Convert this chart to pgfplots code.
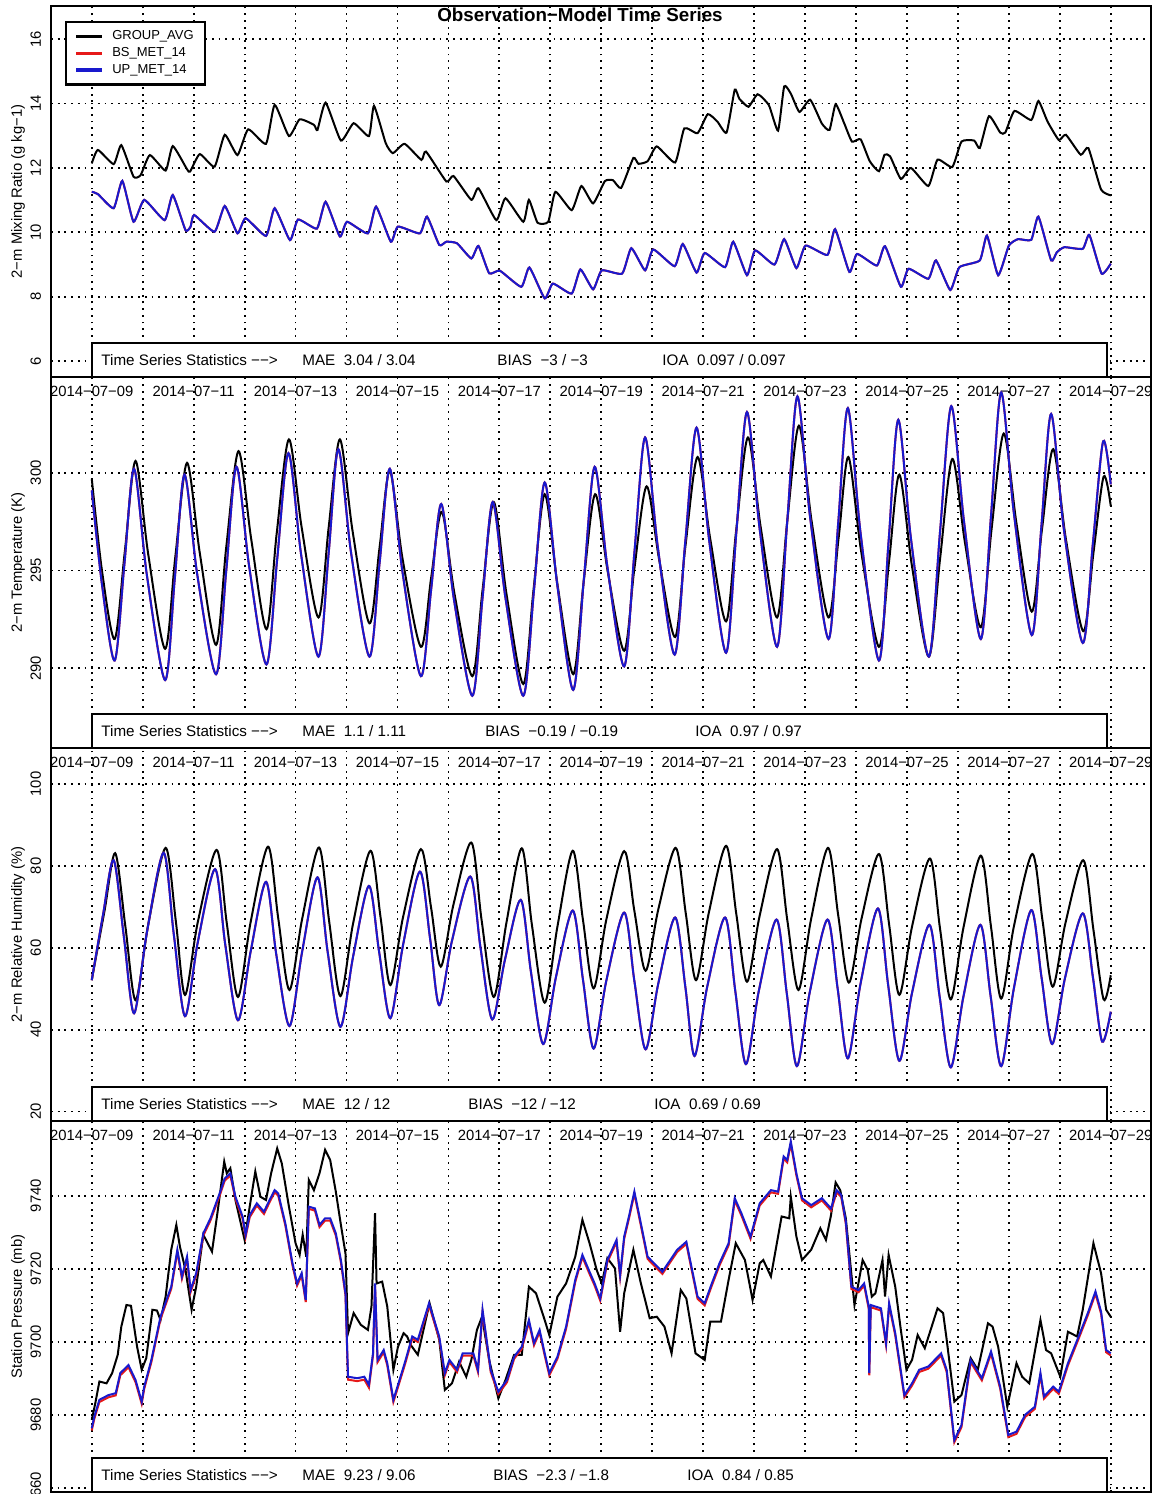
\documentclass[border=0pt]{standalone}
\usepackage{pgfplots}
\pgfplotsset{compat=1.18}
\usepackage{fontspec}
\setmainfont{Liberation Sans}
\definecolor{rblue}{RGB}{25,25,205}
\definecolor{rred}{RGB}{230,25,25}
\newcommand\tickfont{\fontsize{7.4}{8.5}\selectfont}
\newcommand\statfont{\fontsize{7.6}{9}\selectfont}
\tikzset{stat/.style={anchor=west, font=\statfont, inner sep=0pt}}
\pgfplotsset{
  panel/.style={
    scale only axis, width=550pt,
    xmin=-0.80, xmax=20.79,
    xtick={0,2,...,20}, minor xtick={1,3,...,19},
    xticklabels={2014−07−09,2014−07−11,2014−07−13,2014−07−15,2014−07−17,2014−07−19,2014−07−21,2014−07−23,2014−07−25,2014−07−27,2014−07−29},
    grid=both,
    major grid style={black, line width=0.9pt, dash pattern=on 0.9pt off 2.45pt},
    minor grid style={black, line width=0.9pt, dash pattern=on 0.9pt off 2.45pt},
    major tick length=0pt, minor tick length=0pt,
    axis line style={line width=1.25pt},
    ticklabel style={font=\tickfont},
    xticklabel shift=0.9pt,
    yticklabel style={rotate=90, anchor=south},
    yticklabel shift=1.5pt,
    label style={font=\tickfont},
    ylabel style={at={(axis description cs:-0.030,0.5)}, anchor=center},
  },
}
\newcommand\statbox{\draw[line width=1pt, fill=white] (rel axis cs:0.0373,0) rectangle (rel axis cs:0.9600,0.0916);
  \node[stat] at (rel axis cs:0.0455,0.046) {Time Series Statistics −−>};}
\begin{document}
\begin{tikzpicture}
% ---------------- Panel 1: mixing ratio
\begin{axis}[panel, at={(25.5pt,558.5pt)}, anchor=south west, height=185.5pt,
  ymin=5.51, ymax=17.03, ytick={6,8,10,12,14,16}, yticklabels={6,8,10,12,14,16},
  ylabel={2−m Mixing Ratio (g kg−1)},
  legend style={at={(axis description cs:0.0127,0.96)}, anchor=north west, draw=black, line width=1.1pt, fill=white,
    font=\fontsize{6.5}{7}\selectfont, inner xsep=4.3pt, inner ysep=3pt, nodes={inner sep=1.2pt}, column sep=3pt, row sep=0pt, cells={anchor=west}},
  legend image code/.code={\draw[#1, line width=1.6pt] (0pt,0pt) -- (13pt,0pt);}]
\addplot[black, line width=1pt, smooth, tension=0.3] coordinates {(0,12.14) (0.12,12.56) (0.43,12.12) (0.58,12.71) (0.82,11.73) (0.96,11.78) (1.14,12.40) (1.45,11.92) (1.59,12.68) (1.87,11.96) (1.93,11.89) (2.12,12.43) (2.41,12.04) (2.61,13.03) (2.86,12.40) (3.07,13.20) (3.42,12.75) (3.59,13.96) (3.87,12.99) (4.08,13.51) (4.36,13.34) (4.43,13.18) (4.59,14.03) (4.89,12.85) (5.14,13.39) (5.44,12.99) (5.54,13.93) (5.77,12.77) (5.91,12.46) (6.14,12.75) (6.47,12.25) (6.56,12.51) (6.96,11.58) (7.10,11.75) (7.45,11.01) (7.59,11.37) (7.94,10.38) (8.12,11.06) (8.47,10.33) (8.58,11.01) (8.75,10.30) (8.96,10.33) (9.10,11.26) (9.42,10.69) (9.61,11.44) (9.84,10.90) (10.07,11.59) (10.23,11.62) (10.39,11.38) (10.63,12.31) (10.73,12.13) (10.91,12.21) (11.09,12.67) (11.45,12.17) (11.63,13.23) (11.89,13.08) (12.09,13.67) (12.28,13.44) (12.46,13.10) (12.62,14.43) (12.71,14.15) (12.89,13.90) (13.07,14.29) (13.29,13.95) (13.47,13.16) (13.59,14.53) (13.72,14.31) (13.89,13.74) (14.10,14.12) (14.33,13.38) (14.48,13.18) (14.60,13.98) (14.77,13.38) (14.92,12.82) (15.09,12.89) (15.27,12.21) (15.45,11.90) (15.56,12.41) (15.67,12.36) (15.88,11.66) (16.08,12.0) (16.42,11.44) (16.60,12.26) (16.89,12.03) (17.07,12.82) (17.32,12.85) (17.43,12.62) (17.61,13.61) (17.83,13.10) (17.93,13.10) (18.11,13.77) (18.44,13.49) (18.58,14.08) (18.76,13.44) (18.98,12.87) (19.12,13.03) (19.41,12.41) (19.56,12.62) (19.81,11.33) (20.0,11.15)};
\addplot[rred, line width=1pt, smooth, tension=0.3] coordinates {(0,11.26) (0.12,11.19) (0.43,10.75) (0.6,11.60) (0.82,10.33) (1.03,11.01) (1.43,10.38) (1.59,11.16) (1.84,10.07) (1.94,10.18) (2.01,10.54) (2.41,10.02) (2.61,10.82) (2.86,9.97) (3.02,10.44) (3.42,9.89) (3.59,10.75) (3.89,9.76) (4.05,10.40) (4.42,10.12) (4.59,10.95) (4.87,9.87) (5.01,10.33) (5.42,9.97) (5.58,10.80) (5.87,9.71) (6.01,10.18) (6.44,9.97) (6.58,10.49) (6.82,9.61) (6.96,9.71) (7.17,9.66) (7.45,9.19) (7.59,9.58) (7.80,8.73) (8.01,8.81) (8.43,8.31) (8.59,8.91) (8.89,7.95) (9.05,8.41) (9.42,8.10) (9.59,8.85) (9.84,8.23) (10.01,8.82) (10.41,8.72) (10.59,9.51) (10.86,8.82) (11.02,9.47) (11.44,8.95) (11.60,9.64) (11.87,8.75) (12.03,9.36) (12.43,8.92) (12.59,9.71) (12.86,8.67) (13.02,9.44) (13.40,9.0) (13.59,9.79) (13.83,8.89) (14.01,9.59) (14.44,9.30) (14.59,10.10) (14.87,8.77) (15.02,9.33) (15.41,8.97) (15.57,9.57) (15.88,8.31) (16.03,8.87) (16.42,8.56) (16.57,9.13) (16.85,8.21) (17.03,8.92) (17.43,9.13) (17.57,9.90) (17.79,8.67) (18.0,9.59) (18.18,9.79) (18.44,9.77) (18.58,10.49) (18.83,9.13) (18.94,9.38) (19.09,9.54) (19.45,9.49) (19.58,9.92) (19.82,8.72) (20.0,9.03)};
\addplot[rblue, line width=1pt, smooth, tension=0.3] coordinates {(0,11.26) (0.12,11.19) (0.43,10.75) (0.6,11.60) (0.82,10.33) (1.03,11.01) (1.43,10.38) (1.59,11.16) (1.84,10.07) (1.94,10.18) (2.01,10.54) (2.41,10.02) (2.61,10.82) (2.86,9.97) (3.02,10.44) (3.42,9.89) (3.59,10.75) (3.89,9.76) (4.05,10.40) (4.42,10.12) (4.59,10.95) (4.87,9.87) (5.01,10.33) (5.42,9.97) (5.58,10.80) (5.87,9.71) (6.01,10.18) (6.44,9.97) (6.58,10.49) (6.82,9.61) (6.96,9.71) (7.17,9.66) (7.45,9.19) (7.59,9.58) (7.80,8.73) (8.01,8.81) (8.43,8.31) (8.59,8.91) (8.89,7.95) (9.05,8.41) (9.42,8.10) (9.59,8.85) (9.84,8.23) (10.01,8.82) (10.41,8.72) (10.59,9.51) (10.86,8.82) (11.02,9.47) (11.44,8.95) (11.60,9.64) (11.87,8.75) (12.03,9.36) (12.43,8.92) (12.59,9.71) (12.86,8.67) (13.02,9.44) (13.40,9.0) (13.59,9.79) (13.83,8.89) (14.01,9.59) (14.44,9.30) (14.59,10.10) (14.87,8.77) (15.02,9.33) (15.41,8.97) (15.57,9.57) (15.88,8.31) (16.03,8.87) (16.42,8.56) (16.57,9.13) (16.85,8.21) (17.03,8.92) (17.43,9.13) (17.57,9.90) (17.79,8.67) (18.0,9.59) (18.18,9.79) (18.44,9.77) (18.58,10.49) (18.83,9.13) (18.94,9.38) (19.09,9.54) (19.45,9.49) (19.58,9.92) (19.82,8.72) (20.0,9.03)};
\legend{GROUP\_AVG, BS\_MET\_14, UP\_MET\_14}
\statbox
\node[stat] at (rel axis cs:0.2282,0.046) {MAE\ \ 3.04 / 3.04};
\node[stat] at (rel axis cs:0.4055,0.046) {BIAS\ \ −3 / −3};
\node[stat] at (rel axis cs:0.5555,0.046) {IOA\ \ 0.097 / 0.097};
\end{axis}
% ---------------- Panel 2: temperature
\begin{axis}[panel, at={(25.5pt,373pt)}, anchor=south west, height=185.5pt,
  ymin=285.93, ymax=304.89, ytick={290,295,300}, yticklabels={290,295,300},
  ylabel={2−m Temperature (K)}]
\addplot[black, line width=1pt, smooth] coordinates {(0,299.7) (0.2,295.0) (0.45,291.5) (0.65,296.0) (0.86,300.6) (1.11,295.8) (1.44,291.0) (1.64,295.7) (1.87,300.5) (2.12,295.9) (2.44,291.2) (2.64,296.2) (2.88,301.1) (3.13,296.6) (3.43,292.0) (3.63,296.9) (3.87,301.7) (4.12,297.2) (4.45,292.6) (4.65,297.2) (4.87,301.7) (5.12,297.0) (5.45,292.3) (5.65,296.2) (5.85,300.1) (6.1,295.6) (6.46,291.1) (6.66,294.6) (6.87,298.0) (7.12,293.8) (7.47,289.6) (7.67,294.0) (7.89,298.5) (8.14,293.8) (8.47,289.2) (8.67,294.0) (8.89,298.9) (9.14,294.3) (9.45,289.7) (9.65,294.3) (9.88,298.9) (10.13,294.9) (10.45,290.9) (10.65,295.1) (10.89,299.3) (11.14,295.5) (11.45,291.6) (11.65,296.2) (11.89,300.8) (12.14,296.6) (12.45,292.4) (12.65,297.1) (12.88,301.8) (13.13,297.2) (13.45,292.6) (13.65,297.5) (13.88,302.4) (14.13,297.5) (14.46,292.6) (14.66,296.7) (14.85,300.8) (15.1,296.0) (15.45,291.1) (15.65,295.5) (15.85,299.9) (16.1,295.2) (16.43,290.6) (16.65,295.6) (16.89,300.7) (17.14,296.4) (17.45,292.1) (17.66,297.1) (17.9,302.0) (18.15,297.4) (18.45,292.9) (18.65,297.1) (18.87,301.2) (19.12,296.6) (19.46,291.9) (19.66,295.9) (19.86,299.8) (20,298.3)};
\addplot[rred, line width=1pt, smooth] coordinates {(0,299.1) (0.2,294.3) (0.45,290.4) (0.64,295.3) (0.83,300.2) (1.08,294.8) (1.44,289.4) (1.63,294.6) (1.82,299.9) (2.07,294.8) (2.44,289.7) (2.64,295.0) (2.84,300.3) (3.09,295.2) (3.43,290.2) (3.64,295.6) (3.86,301.0) (4.11,295.8) (4.45,290.6) (4.65,295.9) (4.84,301.2) (5.09,295.9) (5.45,290.6) (5.65,295.4) (5.85,300.2) (6.1,294.9) (6.46,289.6) (6.66,294.0) (6.86,298.4) (7.11,293.5) (7.47,288.6) (7.67,293.6) (7.87,298.5) (8.12,293.6) (8.47,288.6) (8.68,294.0) (8.89,299.5) (9.14,294.2) (9.45,288.9) (9.66,294.6) (9.87,300.3) (10.12,295.2) (10.45,290.1) (10.65,295.9) (10.86,301.8) (11.11,296.2) (11.44,290.7) (11.65,296.5) (11.87,302.3) (12.12,296.5) (12.45,290.8) (12.65,296.9) (12.86,303.1) (13.11,297.1) (13.45,291.1) (13.65,297.5) (13.85,303.9) (14.1,297.7) (14.46,291.5) (14.65,297.4) (14.84,303.3) (15.09,296.9) (15.45,290.4) (15.64,296.5) (15.83,302.7) (16.08,296.6) (16.43,290.6) (16.65,297.0) (16.87,303.4) (17.12,297.5) (17.45,291.5) (17.65,297.8) (17.85,304.1) (18.1,297.9) (18.45,291.7) (18.64,297.3) (18.83,303.0) (19.08,297.1) (19.45,291.3) (19.65,296.4) (19.85,301.6) (20,299.4)};
\addplot[rblue, line width=1pt, smooth] coordinates {(0,299.1) (0.2,294.3) (0.45,290.4) (0.64,295.3) (0.83,300.2) (1.08,294.8) (1.44,289.4) (1.63,294.6) (1.82,299.9) (2.07,294.8) (2.44,289.7) (2.64,295.0) (2.84,300.3) (3.09,295.2) (3.43,290.2) (3.64,295.6) (3.86,301.0) (4.11,295.8) (4.45,290.6) (4.65,295.9) (4.84,301.2) (5.09,295.9) (5.45,290.6) (5.65,295.4) (5.85,300.2) (6.1,294.9) (6.46,289.6) (6.66,294.0) (6.86,298.4) (7.11,293.5) (7.47,288.6) (7.67,293.6) (7.87,298.5) (8.12,293.6) (8.47,288.6) (8.68,294.0) (8.89,299.5) (9.14,294.2) (9.45,288.9) (9.66,294.6) (9.87,300.3) (10.12,295.2) (10.45,290.1) (10.65,295.9) (10.86,301.8) (11.11,296.2) (11.44,290.7) (11.65,296.5) (11.87,302.3) (12.12,296.5) (12.45,290.8) (12.65,296.9) (12.86,303.1) (13.11,297.1) (13.45,291.1) (13.65,297.5) (13.85,303.9) (14.1,297.7) (14.46,291.5) (14.65,297.4) (14.84,303.3) (15.09,296.9) (15.45,290.4) (15.64,296.5) (15.83,302.7) (16.08,296.6) (16.43,290.6) (16.65,297.0) (16.87,303.4) (17.12,297.5) (17.45,291.5) (17.65,297.8) (17.85,304.1) (18.1,297.9) (18.45,291.7) (18.64,297.3) (18.83,303.0) (19.08,297.1) (19.45,291.3) (19.65,296.4) (19.85,301.6) (20,299.4)};
\statbox
\node[stat] at (rel axis cs:0.2282,0.046) {MAE\ \ 1.1 / 1.11};
\node[stat] at (rel axis cs:0.3945,0.046) {BIAS\ \ −0.19 / −0.19};
\node[stat] at (rel axis cs:0.5855,0.046) {IOA\ \ 0.97 / 0.97};
\end{axis}
% ---------------- Panel 3: relative humidity
\begin{axis}[panel, at={(25.5pt,186.5pt)}, anchor=south west, height=186.5pt,
  ymin=17.7, ymax=108.8, ytick={20,40,60,80,100}, yticklabels={20,40,60,80,100},
  ylabel={2−m Relative Humidity (\%)}]
\addplot[black, line width=1pt, smooth] coordinates {(0,52.1) (0.25,69.0) (0.46,83.1) (0.66,65.2) (0.86,47.2) (1.11,65.8) (1.45,84.4) (1.65,66.5) (1.83,48.5) (2.08,66.2) (2.45,83.9) (2.65,66.0) (2.87,48.0) (3.12,66.4) (3.46,84.7) (3.66,67.2) (3.88,49.7) (4.13,67.1) (4.46,84.5) (4.66,66.4) (4.88,48.2) (5.13,66.0) (5.47,83.7) (5.67,67.3) (5.86,50.9) (6.11,67.5) (6.46,84.1) (6.66,69.8) (6.85,55.4) (7.1,70.6) (7.45,85.7) (7.65,66.9) (7.89,48.0) (8.14,66.2) (8.44,84.3) (8.64,65.5) (8.89,46.6) (9.14,65.2) (9.44,83.7) (9.64,66.9) (9.85,50.1) (10.1,66.9) (10.45,83.6) (10.65,69.0) (10.87,54.4) (11.12,69.4) (11.46,84.4) (11.66,68.3) (11.86,52.1) (12.11,68.5) (12.45,84.9) (12.65,68.3) (12.86,51.7) (13.11,67.9) (13.45,84.1) (13.65,66.9) (13.87,49.7) (14.12,67.1) (14.45,84.4) (14.65,68.0) (14.86,51.5) (15.11,67.2) (15.45,82.9) (15.65,65.7) (15.85,48.5) (16.1,65.2) (16.45,81.8) (16.65,64.6) (16.86,47.4) (17.11,65.0) (17.45,82.5) (17.65,65.1) (17.85,47.6) (18.1,65.3) (18.46,82.9) (18.66,66.7) (18.86,50.5) (19.11,66.0) (19.46,81.4) (19.66,64.4) (19.86,47.4) (20,53.3)};
\addplot[rred, line width=1pt, smooth] coordinates {(0,52.1) (0.22,68.0) (0.43,81.4) (0.63,62.7) (0.83,44.0) (1.08,63.6) (1.41,83.2) (1.61,63.3) (1.83,43.3) (2.08,61.3) (2.42,79.2) (2.62,60.8) (2.87,42.3) (3.12,59.2) (3.42,76.1) (3.62,58.5) (3.88,40.9) (4.13,59.1) (4.43,77.2) (4.63,59.0) (4.88,40.7) (5.13,57.9) (5.44,75.1) (5.64,59.0) (5.86,42.8) (6.11,60.7) (6.44,78.6) (6.64,62.3) (6.82,46.0) (7.07,61.7) (7.43,77.4) (7.63,60.0) (7.86,42.5) (8.11,57.1) (8.42,71.7) (8.62,54.1) (8.86,36.5) (9.11,52.8) (9.44,69.1) (9.64,52.3) (9.85,35.4) (10.1,52.0) (10.45,68.6) (10.65,51.9) (10.87,35.2) (11.12,51.3) (11.45,67.4) (11.65,50.5) (11.83,33.6) (12.08,50.5) (12.43,67.4) (12.63,49.5) (12.84,31.6) (13.09,49.3) (13.44,66.9) (13.64,49.0) (13.84,31.1) (14.09,49.0) (14.44,66.9) (14.64,50.0) (14.84,33.0) (15.09,51.3) (15.43,69.6) (15.63,51.0) (15.85,32.4) (16.1,49.0) (16.44,65.6) (16.64,48.2) (16.86,30.8) (17.11,48.2) (17.44,65.6) (17.64,48.4) (17.85,31.1) (18.1,50.2) (18.44,69.2) (18.64,52.9) (18.85,36.5) (19.1,52.5) (19.45,68.4) (19.65,52.8) (19.83,37.1) (20,44.4)};
\addplot[rblue, line width=1pt, smooth] coordinates {(0,52.1) (0.22,68.0) (0.43,81.4) (0.63,62.7) (0.83,44.0) (1.08,63.6) (1.41,83.2) (1.61,63.3) (1.83,43.3) (2.08,61.3) (2.42,79.2) (2.62,60.8) (2.87,42.3) (3.12,59.2) (3.42,76.1) (3.62,58.5) (3.88,40.9) (4.13,59.1) (4.43,77.2) (4.63,59.0) (4.88,40.7) (5.13,57.9) (5.44,75.1) (5.64,59.0) (5.86,42.8) (6.11,60.7) (6.44,78.6) (6.64,62.3) (6.82,46.0) (7.07,61.7) (7.43,77.4) (7.63,60.0) (7.86,42.5) (8.11,57.1) (8.42,71.7) (8.62,54.1) (8.86,36.5) (9.11,52.8) (9.44,69.1) (9.64,52.3) (9.85,35.4) (10.1,52.0) (10.45,68.6) (10.65,51.9) (10.87,35.2) (11.12,51.3) (11.45,67.4) (11.65,50.5) (11.83,33.6) (12.08,50.5) (12.43,67.4) (12.63,49.5) (12.84,31.6) (13.09,49.3) (13.44,66.9) (13.64,49.0) (13.84,31.1) (14.09,49.0) (14.44,66.9) (14.64,50.0) (14.84,33.0) (15.09,51.3) (15.43,69.6) (15.63,51.0) (15.85,32.4) (16.1,49.0) (16.44,65.6) (16.64,48.2) (16.86,30.8) (17.11,48.2) (17.44,65.6) (17.64,48.4) (17.85,31.1) (18.1,50.2) (18.44,69.2) (18.64,52.9) (18.85,36.5) (19.1,52.5) (19.45,68.4) (19.65,52.8) (19.83,37.1) (20,44.4)};
\statbox
\node[stat] at (rel axis cs:0.2282,0.046) {MAE\ \ 12 / 12};
\node[stat] at (rel axis cs:0.3791,0.046) {BIAS\ \ −12 / −12};
\node[stat] at (rel axis cs:0.5482,0.046) {IOA\ \ 0.69 / 0.69};
\end{axis}
% ---------------- Panel 4: station pressure
\begin{axis}[panel, at={(25.5pt,1pt)}, anchor=south west, height=185.5pt,
  xticklabels={},
  ymin=9659.0, ymax=9760.4, ytick={9660,9680,9700,9720,9740}, yticklabels={9660,9680,9700,9720,9740},
  ylabel={Station Pressure (mb)}]
\addplot[black, line width=1pt] coordinates {(0,9678.7) (0.07,9683.3) (0.15,9689.2) (0.29,9688.7) (0.4,9691.5) (0.51,9696.5) (0.58,9704.2) (0.68,9710.1) (0.77,9709.9) (0.89,9698.7) (0.98,9692.4) (1.07,9695.6) (1.19,9708.8) (1.28,9708.6) (1.35,9706.0) (1.45,9712.4) (1.56,9725.2) (1.66,9732.0) (1.73,9726.1) (1.84,9719.7) (1.96,9708.8) (2.05,9715.1) (2.19,9729.3) (2.36,9724.7) (2.47,9735.6) (2.6,9749.3) (2.65,9746.1) (2.72,9747.5) (2.82,9738.8) (3.0,9727.9) (3.1,9737.0) (3.21,9746.6) (3.31,9739.7) (3.42,9738.8) (3.52,9746.1) (3.64,9752.9) (3.73,9748.8) (3.87,9737.0) (4.0,9727.0) (4.08,9723.8) (4.14,9729.3) (4.21,9723.3) (4.26,9744.3) (4.36,9741.5) (4.47,9746.1) (4.58,9752.5) (4.68,9749.7) (4.79,9741.1) (4.89,9732.0) (4.98,9724.2) (5.03,9702.4) (5.14,9707.9) (5.28,9704.7) (5.42,9703.3) (5.49,9709.7) (5.56,9735.2) (5.59,9716.0) (5.70,9716.5) (5.80,9709.7) (5.92,9692.4) (6.01,9698.7) (6.12,9702.4) (6.19,9701.5) (6.26,9699.2) (6.40,9696.5) (6.63,9710.6) (6.82,9700.6) (6.93,9686.9) (7.07,9688.7) (7.21,9694.6) (7.35,9690.5) (7.45,9695.1) (7.56,9703.3) (7.66,9706.9) (7.80,9695.1) (7.98,9684.6) (8.12,9689.6) (8.29,9696.5) (8.44,9696.5) (8.58,9715.1) (8.72,9713.3) (8.89,9706.0) (8.98,9701.9) (9.14,9712.4) (9.31,9716.0) (9.49,9723.3) (9.63,9733.4) (9.77,9727.0) (9.91,9719.7) (10.01,9716.0) (10.12,9722.9) (10.27,9720.1) (10.37,9702.8) (10.45,9713.3) (10.63,9725.2) (10.77,9716.5) (10.95,9706.5) (11.09,9706.9) (11.24,9704.2) (11.38,9696.9) (11.56,9714.2) (11.67,9711.9) (11.85,9696.9) (12.03,9695.1) (12.14,9705.6) (12.35,9705.6) (12.50,9717.0) (12.64,9727.0) (12.82,9722.4) (12.97,9711.5) (13.11,9721.5) (13.18,9722.4) (13.33,9717.9) (13.54,9734.3) (13.69,9733.8) (13.72,9739.7) (13.83,9728.8) (13.94,9722.4) (14.12,9725.2) (14.30,9731.1) (14.41,9727.9) (14.51,9734.7) (14.6,9743.6) (14.69,9741.5) (14.80,9733.8) (14.97,9710.1) (15.13,9722.4) (15.23,9719.7) (15.31,9712.4) (15.38,9713.3) (15.52,9722.4) (15.57,9712.4) (15.64,9723.8) (15.77,9715.1) (15.88,9703.3) (15.99,9692.4) (16.1,9695.1) (16.21,9701.9) (16.35,9698.3) (16.60,9709.2) (16.71,9707.9) (16.78,9700.6) (16.93,9683.7) (17.07,9685.5) (17.25,9695.6) (17.39,9692.4) (17.59,9705.1) (17.68,9704.2) (17.79,9698.7) (17.97,9682.3) (18.15,9694.2) (18.26,9690.5) (18.40,9688.7) (18.62,9706.0) (18.73,9697.8) (18.83,9696.9) (19.01,9690.5) (19.16,9702.8) (19.34,9701.5) (19.45,9708.8) (19.66,9727.0) (19.81,9718.8) (19.91,9708.8) (20.0,9706.9)};
\addplot[rred, line width=1pt] coordinates {(0,9675.8) (0.05,9679.0) (0.15,9683.6) (0.33,9684.9) (0.47,9685.4) (0.56,9690.9) (0.72,9693.1) (0.86,9689.0) (0.98,9683.1) (1.03,9687.2) (1.17,9694.5) (1.35,9706.3) (1.56,9714.5) (1.68,9724.6) (1.77,9717.3) (1.87,9722.7) (1.94,9713.6) (2.05,9718.2) (2.19,9729.1) (2.33,9733.2) (2.51,9740.0) (2.61,9744.1) (2.72,9745.5) (2.82,9739.1) (2.96,9733.7) (3.02,9728.7) (3.1,9734.1) (3.24,9737.3) (3.38,9735.0) (3.49,9738.2) (3.59,9740.9) (3.66,9740.0) (3.80,9731.8) (3.94,9720.9) (4.03,9715.4) (4.12,9718.2) (4.20,9710.9) (4.26,9736.4) (4.38,9735.9) (4.47,9731.4) (4.58,9733.2) (4.68,9733.2) (4.79,9729.1) (4.89,9721.8) (4.98,9712.7) (5.03,9689.7) (5.21,9689.3) (5.35,9689.7) (5.44,9687.5) (5.52,9696.3) (5.56,9715.4) (5.61,9694.5) (5.73,9697.2) (5.80,9693.6) (5.92,9683.6) (6.04,9689.0) (6.15,9694.0) (6.29,9700.9) (6.40,9700.0) (6.62,9710.0) (6.82,9700.9) (6.93,9690.9) (7.02,9694.5) (7.17,9691.8) (7.28,9696.3) (7.49,9696.3) (7.58,9691.8) (7.67,9708.2) (7.83,9691.8) (7.98,9685.8) (8.15,9689.0) (8.29,9695.4) (8.44,9698.1) (8.58,9705.4) (8.68,9699.1) (8.79,9702.7) (8.89,9696.3) (8.98,9690.9) (9.14,9695.4) (9.31,9703.6) (9.49,9716.4) (9.63,9723.2) (9.77,9718.6) (9.87,9715.4) (9.98,9711.3) (10.12,9721.8) (10.30,9727.3) (10.37,9717.7) (10.45,9728.2) (10.55,9734.1) (10.65,9740.5) (10.77,9732.3) (10.91,9722.7) (11.20,9718.6) (11.49,9724.6) (11.67,9726.8) (11.89,9711.8) (12.03,9710.0) (12.17,9715.4) (12.32,9720.9) (12.50,9726.4) (12.62,9738.7) (12.75,9734.6) (12.93,9728.2) (13.11,9737.3) (13.33,9740.9) (13.47,9740.5) (13.58,9750.1) (13.65,9749.1) (13.72,9754.2) (13.83,9745.5) (13.94,9738.7) (14.12,9736.8) (14.33,9738.7) (14.51,9735.9) (14.62,9740.9) (14.71,9739.6) (14.80,9732.3) (14.91,9714.5) (15.05,9713.6) (15.16,9715.4) (15.25,9709.1) (15.26,9690.9) (15.29,9709.5) (15.49,9708.6) (15.59,9699.1) (15.65,9710.0) (15.77,9701.8) (15.95,9684.9) (16.10,9688.1) (16.24,9691.8) (16.42,9692.7) (16.67,9696.3) (16.78,9691.8) (16.93,9672.6) (17.07,9676.7) (17.25,9694.5) (17.47,9689.5) (17.65,9696.8) (17.83,9687.2) (17.99,9674.0) (18.15,9674.9) (18.32,9679.5) (18.51,9681.7) (18.62,9690.9) (18.69,9684.5) (18.87,9687.2) (18.98,9685.8) (19.16,9693.6) (19.37,9700.9) (19.55,9707.3) (19.70,9713.2) (19.81,9707.7) (19.91,9697.2) (20.0,9696.3)};
\addplot[rblue, line width=1pt] coordinates {(0,9676.4) (0.05,9679.6) (0.15,9684.2) (0.33,9685.5) (0.47,9686.0) (0.56,9691.5) (0.72,9693.7) (0.86,9689.6) (0.98,9683.7) (1.03,9687.8) (1.17,9695.1) (1.35,9706.9) (1.56,9715.1) (1.68,9725.2) (1.77,9717.9) (1.87,9723.3) (1.94,9714.2) (2.05,9718.8) (2.19,9729.7) (2.33,9733.8) (2.51,9740.6) (2.61,9744.7) (2.72,9746.1) (2.82,9739.7) (2.96,9734.3) (3.02,9729.3) (3.1,9734.7) (3.24,9737.9) (3.38,9735.6) (3.49,9738.8) (3.59,9741.5) (3.66,9740.6) (3.80,9732.4) (3.94,9721.5) (4.03,9716.0) (4.12,9718.8) (4.20,9711.5) (4.26,9737.0) (4.38,9736.5) (4.47,9732.0) (4.58,9733.8) (4.68,9733.8) (4.79,9729.7) (4.89,9722.4) (4.98,9713.3) (5.03,9690.5) (5.21,9690.1) (5.35,9690.5) (5.44,9688.3) (5.52,9696.9) (5.56,9716.0) (5.61,9695.1) (5.73,9697.8) (5.80,9694.2) (5.92,9684.2) (6.04,9689.6) (6.15,9694.6) (6.29,9701.5) (6.40,9700.6) (6.62,9710.6) (6.82,9701.5) (6.93,9691.5) (7.02,9695.1) (7.17,9692.4) (7.28,9696.9) (7.49,9696.9) (7.58,9692.4) (7.67,9708.8) (7.83,9692.4) (7.98,9686.4) (8.15,9689.6) (8.29,9696.0) (8.44,9698.7) (8.58,9706.0) (8.68,9699.7) (8.79,9703.3) (8.89,9696.9) (8.98,9691.5) (9.14,9696.0) (9.31,9704.2) (9.49,9717.0) (9.63,9723.8) (9.77,9719.2) (9.87,9716.0) (9.98,9711.9) (10.12,9722.4) (10.30,9727.9) (10.37,9718.3) (10.45,9728.8) (10.55,9734.7) (10.65,9741.1) (10.77,9732.9) (10.91,9723.3) (11.20,9719.2) (11.49,9725.2) (11.67,9727.4) (11.89,9712.4) (12.03,9710.6) (12.17,9716.0) (12.32,9721.5) (12.50,9727.0) (12.62,9739.3) (12.75,9735.2) (12.93,9728.8) (13.11,9737.9) (13.33,9741.5) (13.47,9741.1) (13.58,9750.7) (13.65,9749.7) (13.72,9754.8) (13.83,9746.1) (13.94,9739.3) (14.12,9737.4) (14.33,9739.3) (14.51,9736.5) (14.62,9741.5) (14.71,9740.2) (14.80,9732.9) (14.91,9715.1) (15.05,9714.2) (15.16,9716.0) (15.25,9709.7) (15.26,9691.5) (15.29,9710.1) (15.49,9709.2) (15.59,9699.7) (15.65,9710.6) (15.77,9702.4) (15.95,9685.5) (16.10,9688.7) (16.24,9692.4) (16.42,9693.3) (16.67,9696.9) (16.78,9692.4) (16.93,9673.2) (17.07,9677.3) (17.25,9695.1) (17.47,9690.1) (17.65,9697.4) (17.83,9687.8) (17.99,9674.6) (18.15,9675.5) (18.32,9680.1) (18.51,9682.3) (18.62,9691.5) (18.69,9685.1) (18.87,9687.8) (18.98,9686.4) (19.16,9694.2) (19.37,9701.5) (19.55,9707.9) (19.70,9713.8) (19.81,9708.3) (19.91,9697.8) (20.0,9696.9)};
\statbox
\node[stat] at (rel axis cs:0.2282,0.046) {MAE\ \ 9.23 / 9.06};
\node[stat] at (rel axis cs:0.4018,0.046) {BIAS\ \ −2.3 / −1.8};
\node[stat] at (rel axis cs:0.5782,0.046) {IOA\ \ 0.84 / 0.85};
\end{axis}
\node[font=\bfseries\fontsize{9.4}{11}\selectfont, inner sep=0pt] at (290pt,739.5pt) {Observation−Model Time Series};
\pgfresetboundingbox
\useasboundingbox (0,0) rectangle (578pt,747pt);
\end{tikzpicture}
\end{document}
